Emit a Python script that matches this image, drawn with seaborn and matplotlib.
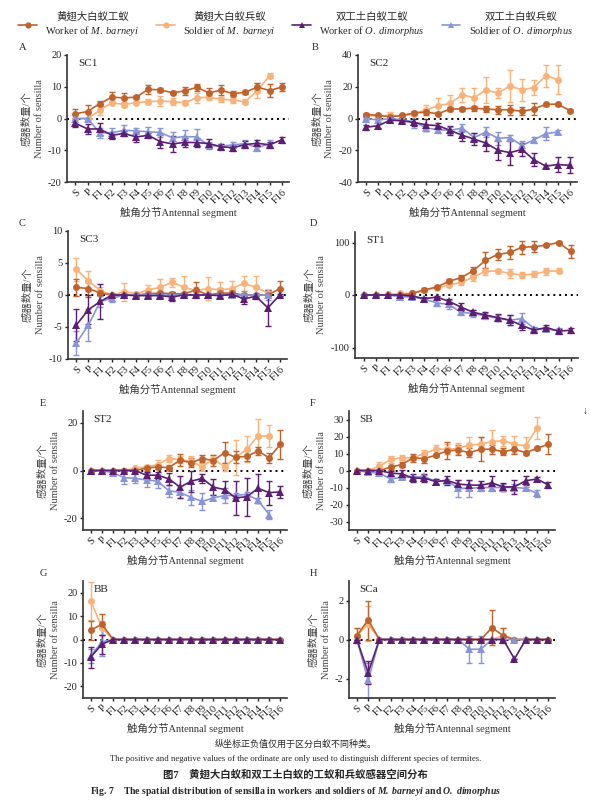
import numpy as np
import pandas as pd
import seaborn as sns
import matplotlib.pyplot as plt
from matplotlib.lines import Line2D

sns.set_style("ticks")
plt.rcParams["font.family"] = ["Liberation Serif", "Noto Sans CJK SC", "DejaVu Sans"]
plt.rcParams["axes.unicode_minus"] = False
plt.rcParams["mathtext.fontset"] = "custom"
plt.rcParams["mathtext.rm"] = "Liberation Serif"
plt.rcParams["mathtext.it"] = "Liberation Serif:italic"
plt.rcParams["mathtext.bf"] = "Liberation Serif:bold"
try:
    plt.rcParams["mathtext.bfit"] = "Liberation Serif:italic:bold"
except KeyError:
    pass

# antennal segments
segs = ["S", "P"] + ["F%d" % i for i in range(1, 17)]

# SC1
sc1_wm = [1.5, 2.2, 4.7, 6.7, 6.5, 6.7, 9.2, 9.0, 8.1, 8.7, 9.8, 8.1, 8.9, 7.8, 8.3, 9.9, 8.8, 9.9]
sc1_wm_err = [1.5, 2.0, 0.7, 1.5, 1.5, 0.5, 1.5, 0.7, 0.5, 1.3, 1.0, 1.5, 1.5, 0.8, 0.5, 1.3, 2.0, 1.2]
sc1_sm = [0, 0, 2.6, 5.0, 4.4, 5.0, 5.3, 5.5, 5.3, 5.0, 6.5, 6.7, 6.1, 5.8, 5.3, 8.8, 13.5]
sc1_sm_err = [0, 0, 1.5, 0.5, 0.7, 0.5, 0.7, 1.5, 1.0, 0.7, 1.5, 0.8, 0.8, 1.0, 0.8, 2.5, 0.8]
sc1_wo = [-1.5, -3.3, -3.3, -5.3, -4.7, -5.8, -5.3, -7.3, -8.0, -7.5, -7.6, -7.9, -8.9, -9.2, -8.2, -7.8, -8.3, -6.7]
sc1_wo_err = [1.2, 1.5, 2.0, 1.0, 0.8, 1.5, 0.8, 2.0, 2.5, 1.5, 1.5, 1.5, 1.0, 1.0, 1.0, 1.0, 1.0, 1.0]
sc1_so = [0, 0, -4.5, -4.5, -3.7, -3.9, -4.2, -4.4, -6.1, -5.7, -5.8, -8.5, -8.7, -8.3, -7.9, -9.2, -7.9]
sc1_so_err = [0, 0, 1.5, 1.5, 1.8, 0.8, 1.5, 1.5, 2.0, 2.0, 2.5, 1.0, 0.8, 1.0, 1.0, 1.0, 1.0]

# SC2
sc2_wm = [2.5, 2, 1, 2, 3.5, 4, 3, 6, 6, 6.5, 6, 5.5, 5.5, 4.5, 6, 9, 9, 5]
sc2_wm_err = [1, 1, 1, 1, 1, 2, 1, 1.5, 1.5, 1.5, 2, 2.5, 3, 2.5, 3.5, 1, 1, 1]
sc2_sm = [2, 1.5, 2, 1.5, 3, 5.5, 8, 9.5, 15, 13, 18, 16, 20.5, 18, 19.5, 27, 24.5]
sc2_sm_err = [1, 1, 2, 1, 1, 3, 5, 5, 4.5, 6, 8, 3, 10, 7, 5, 7, 9]
sc2_wo = [-5.5, -4.5, -1, -1.5, -2.5, -4, -4.5, -7.5, -10.5, -13, -15.5, -20, -21.5, -19.5, -26, -30, -29, -29.5]
sc2_wo_err = [1.5, 1.5, 1, 1.5, 2, 4, 1.5, 3, 3.5, 4, 5, 6, 7.5, 4, 4, 1, 5, 5]
sc2_so = [0, -1, 0, -1, -2, -6, -7, -7.5, -6, -12, -8.5, -12.5, -12, -17, -13.5, -9.5, -8.5]
sc2_so_err = [1, 1, 1, 1, 4, 2, 2, 2, 2.5, 3, 3, 4, 1.5, 3, 2, 4, 1]

# SC3
sc3_wm = [1.2, 1.0, 0.3, 0, 0, 0, 0.2, 0.3, 0.2, 0.2, 0.8, 0, 0.3, 0.3, 0, 0, 0, 1.0]
sc3_wm_err = [1.3, 1.3, 0.5, 0.2, 0.2, 0.2, 0.4, 0.3, 0.3, 0.3, 1.3, 0.3, 0.8, 0.5, 0.2, 0.2, 0.2, 1.2]
sc3_sm = [4.0, 2.2, 0.7, 0, 0.5, 0.2, 0.8, 1.2, 2.0, 1.2, 0.7, 1.0, 0.8, 1.0, 1.8, 1.2, 0.3]
sc3_sm_err = [1.8, 1.5, 0.6, 0.2, 1.4, 0.3, 0.8, 1.3, 0.7, 1.7, 0.6, 1.8, 1.3, 1.2, 1.1, 1.7, 0.4]
sc3_wo = [-4.7, -2.3, -1.0, 0, 0, -0.1, -0.1, -0.1, -0.3, 0, 0, 0, -0.1, 0.1, -0.6, -0.2, -2.0, 0]
sc3_wo_err = [2.5, 2.3, 2.7, 0.2, 0.2, 0.2, 0.2, 0.2, 0.7, 0.2, 0.2, 0.2, 0.3, 0.3, 0.8, 0.4, 2.8, 0.2]
sc3_so = [-7.5, -4.7, -1.0, -0.5, 0, 0, 0, 0, 0, 0, 0, 0, 0, 0, 0, 0, 0]
sc3_so_err = [1.8, 2.5, 0.8, 0.6, 0.1, 0.1, 0.1, 0.1, 0.1, 0.1, 0.1, 0.1, 0.1, 0.1, 0.6, 0.1, 0.8]

# ST1
st1_wm = [0, 0, 0, 0, 3, 10, 15, 26, 33, 46, 66, 77, 81, 91, 92, 95, 100, 83]
st1_wm_err = [0, 0, 0, 0, 1, 3, 2, 4, 6, 8, 15, 10, 12, 12, 10, 2, 3, 12]
st1_sm = [0, 0, 1, 3, 3, 9, 14, 19, 24, 34, 45, 46, 41, 38, 40, 45, 46]
st1_sm_err = [0, 0, 1, 2, 2, 2, 3, 3, 5, 8, 6, 4, 8, 6, 6, 7, 5]
st1_wo = [0, 0, 0, 0, -2, -7, -4, -12, -23, -33, -38, -43, -48, -58, -67, -62, -69, -67]
st1_wo_err = [0, 0, 0, 0, 1, 3, 2, 4, 8, 5, 6, 6, 10, 8, 5, 5, 5, 5]
st1_so = [0, 0, 0, -3, -4, -8, -15, -18, -33, -35, -40, -44, -48, -45, -64, -65, -67]
st1_so_err = [0, 0, 0, 2, 3, 3, 6, 8, 6, 6, 5, 5, 10, 10, 4, 4, 4]

# ST2
st2_wm = [0, 0, 0, 0, 0, 1, 1.5, 1.2, 4.3, 3.3, 5, 4.2, 7.5, 5.5, 6, 8.2, 5.3, 11]
st2_wm_err = [0, 0, 0, 0, 0, 1, 1, 1, 2.5, 2, 1.5, 2.5, 4.5, 2.5, 2, 1.5, 2, 6]
st2_sm = [0, 0, 0, 0, 1, 1.5, 2.5, 5, 4.5, 4, 1.5, 5, 1.5, 5.5, 9, 14.5, 14.5]
st2_sm_err = [0, 0, 0, 0.5, 0.5, 1, 2, 1.5, 1.5, 2, 1.5, 1.5, 1.5, 7.5, 5.5, 7, 4.5]
st2_wo = [0, 0, 0, 0, 0, -2, -2, -3.5, -7, -4.5, -3.3, -7, -8, -11.5, -11, -7.5, -9.3, -9]
st2_wo_err = [0, 0, 0, 0.5, 0.3, 1.5, 1.5, 2.5, 4.5, 4.5, 2, 3.5, 3.5, 7, 8, 6, 5, 2.5]
st2_so = [0, 0, -1, -3, -3.3, -4, -4.5, -8.5, -9.2, -11.3, -13, -11.5, -10.5, -10.5, -10, -12.5, -18.5]
st2_so_err = [0, 0, 1, 2.5, 2, 3, 3, 2.5, 2.5, 3, 3.5, 1, 3, 1, 1, 1, 2]

# SB
sb_wm = [0, 0, 0, 2, 3.5, 7.5, 7, 9, 11.5, 12, 10.5, 12.5, 12.5, 11, 12.5, 10.5, 13, 15.5]
sb_wm_err = [0, 0, 0, 1.5, 1.5, 2.5, 2.5, 1, 5, 3, 2.5, 7, 2.5, 2, 3, 1, 1, 6]
sb_sm = [0, 0, 2.5, 6.5, 7.5, 7.5, 10, 12.5, 12.5, 13, 15, 15.5, 17, 17.5, 15.5, 14.5, 25]
sb_sm_err = [0, 0, 2.5, 2, 1.5, 1.5, 2, 2.5, 3, 3, 5, 4, 7, 3, 5, 5.5, 6.5]
sb_wo = [0, 0, 0, -1.5, -2, -4.5, -4.5, -6.5, -5.8, -8, -8.5, -8.7, -7.3, -9.7, -9.6, -6, -5, -8.5]
sb_wo_err = [0, 0, 0.5, 1.5, 2.5, 2.5, 2.5, 1.5, 2.5, 2.5, 3, 2.5, 4, 2.5, 4, 2.5, 1, 1.5]
sb_so = [0, -1, -1.5, -5, -4, -4, -3.5, -6.5, -6, -10.5, -10.5, -10, -10, -10, -10, -10.5, -13.5]
sb_so_err = [0, 1, 1, 2, 1, 1, 1, 1.5, 1, 5, 5, 2, 2, 2, 2, 1, 2]

# BB
bb_wm = [4, 6.5] + [0] * 16
bb_wm_err = [4, 4.5] + [0] * 16
bb_sm = [16.5, 5] + [0] * 15
bb_sm_err = [8, 3] + [0] * 15
bb_wo = [-7.5, -2] + [0] * 16
bb_wo_err = [4.5, 4] + [0] * 16
bb_so = [-7, -1] + [0] * 15
bb_so_err = [3, 6] + [0] * 15

# SCa
sca_wm = [0.2, 1.0, 0, 0, 0, 0, 0, 0, 0, 0, 0, 0, 0.6, 0.2, 0, 0, 0, 0]
sca_wm_err = [0.4, 1.0, 0, 0, 0, 0, 0, 0, 0, 0, 0, 0, 0.9, 0.4, 0, 0, 0, 0]
sca_sm = [0.2, 0.8, 0, 0, 0, 0, 0, 0, 0, 0, 0, 0, 0, 0.2, 0, 0, 0]
sca_sm_err = [0.4, 0.9, 0, 0, 0, 0, 0, 0, 0, 0, 0, 0, 0, 0.4, 0, 0, 0]
sca_wo = [0, -1.7, 0, 0, 0, 0, 0, 0, 0, 0, 0, 0, 0, 0, -1.0, 0, 0, 0]
sca_wo_err = [0, 0.6, 0, 0, 0, 0, 0, 0, 0, 0, 0, 0, 0, 0, 0, 0, 0, 0]
sca_so = [0, -2.1, 0, 0, 0, 0, 0, 0, 0, 0, -0.5, -0.5, 0, 0, 0, 0, 0]
sca_so_err = [0, 0.9, 0, 0, 0, 0, 0, 0, 0, 0, 0.7, 0.7, 0, 0, 0, 0, 0]

group_names = ["黄翅大白蚁工蚁\nWorker of $\\it{M.\\ barneyi}$",
               "黄翅大白蚁兵蚁\nSoldier of $\\it{M.\\ barneyi}$",
               "双工土白蚁工蚁\nWorker of $\\it{O.\\ dimorphus}$",
               "双工土白蚁兵蚁\nSoldier of $\\it{O.\\ dimorphus}$"]
colors = ["#C0622C", "#F8B27A", "#5C1E72", "#8795D8"]
markers = ["o", "o", "^", "^"]

W, H = 591, 810
fig = plt.figure(figsize=(W / 100, H / 100), dpi=100)

panels = [
    # letter, title, data, errors, ylim, yticks, axes box px (left, top, right, bottom), letter pos px
    ("A", "SC1", [sc1_wm, sc1_sm, sc1_wo, sc1_so], [sc1_wm_err, sc1_sm_err, sc1_wo_err, sc1_so_err],
     (-20, 20), [-20, -10, 0, 10, 20], (67, 55, 289, 182), (19, 48)),
    ("B", "SC2", [sc2_wm, sc2_sm, sc2_wo, sc2_so], [sc2_wm_err, sc2_sm_err, sc2_wo_err, sc2_so_err],
     (-40, 40), [-40, -20, 0, 20, 40], (358, 55, 577, 182), (312, 48)),
    ("C", "SC3", [sc3_wm, sc3_sm, sc3_wo, sc3_so], [sc3_wm_err, sc3_sm_err, sc3_wo_err, sc3_so_err],
     (-10, 10), [-10, -5, 0, 5, 10], (68, 231, 287, 359), (19, 224)),
    ("D", "ST1", [st1_wm, st1_sm, st1_wo, st1_so], [st1_wm_err, st1_sm_err, st1_wo_err, st1_so_err],
     (-120, 120), [-100, 0, 100], (355, 232, 578, 358), (310, 224)),
    ("E", "ST2", [st2_wm, st2_sm, st2_wo, st2_so], [st2_wm_err, st2_sm_err, st2_wo_err, st2_so_err],
     (-25, 25), [-20, 0, 20], (83, 411, 287, 530), (40, 404)),
    ("F", "SB", [sb_wm, sb_sm, sb_wo, sb_so], [sb_wm_err, sb_sm_err, sb_wo_err, sb_so_err],
     (-35, 35), [-30, -20, -10, 0, 10, 20, 30], (349, 411, 555, 530), (310, 404)),
    ("G", "BB", [bb_wm, bb_sm, bb_wo, bb_so], [bb_wm_err, bb_sm_err, bb_wo_err, bb_so_err],
     (-25, 25), [-20, -10, 0, 10, 20], (83, 581, 287, 698), (40, 574)),
    ("H", "SCa", [sca_wm, sca_sm, sca_wo, sca_so], [sca_wm_err, sca_sm_err, sca_wo_err, sca_so_err],
     (-3, 3), [-2, 0, 2], (349, 581, 555, 698), (310, 574)),
]

draw_order = [1, 0, 3, 2]  # soldiers under workers

for letter, title, vals, errs, ylim, yticks, box, lpos in panels:
    l, t, r, b = box
    ax = fig.add_axes([l / W, 1 - b / H, (r - l) / W, (b - t) / H])
    ax.axhline(0, color="black", lw=1.4, ls=(0, (1, 2)), zorder=1)
    for i in draw_order:
        n = len(vals[i])
        df = pd.DataFrame({"pos": np.arange(n), "val": vals[i]})
        ax.errorbar(df["pos"], df["val"], yerr=errs[i], fmt="none", ecolor=colors[i],
                    elinewidth=1.0, capsize=2.2, capthick=1.0, zorder=2)
        sns.lineplot(data=df, x="pos", y="val", ax=ax, color=colors[i], marker=markers[i],
                     markersize=5 if markers[i] == "o" else 5.5, markeredgewidth=0,
                     lw=1.2, errorbar=None, zorder=3)
    ax.set_xlim(-0.7, 17.6)
    ax.set_ylim(*ylim)
    ax.set_yticks(yticks)
    ax.set_xticks(np.arange(len(segs)))
    ax.set_xticklabels(segs, rotation=45, ha="right", rotation_mode="anchor")
    ax.tick_params(labelsize=7.5, length=2.5, width=1, pad=1.5, colors="#222222")
    for s in ["top", "right"]:
        ax.spines[s].set_visible(False)
    for s in ["left", "bottom"]:
        ax.spines[s].set_linewidth(1.2)
        ax.spines[s].set_color("#333333")
    ax.set_xlabel("触角分节Antennal segment", fontsize=7.5, labelpad=1, color="#333333")
    ax.set_ylabel("感器数量/个\nNumber of sensilla", fontsize=7.5, labelpad=3,
                  color="#444444", linespacing=1.45)
    ax.text(0.05, 0.97, title, transform=ax.transAxes, fontsize=8, va="top", ha="left")
    fig.text(lpos[0] / W, 1 - lpos[1] / H, letter, fontsize=7.5, ha="left", va="center")

handles = [Line2D([0], [0], color=colors[i], marker=markers[i], markersize=4.5,
                  markeredgewidth=0, lw=1.2) for i in range(4)]
leg = fig.legend(handles, group_names, loc="upper center", bbox_to_anchor=(0.5, 0.997),
                 ncol=4, frameon=False, fontsize=7.5, handlelength=1.8,
                 handletextpad=0.8, columnspacing=1.6)
for txt in leg.get_texts():
    txt.set_multialignment("center")

fig.text(0.995, 1 - 411 / H, "↓", fontsize=7, ha="right", va="center")
fig.text(0.5, 1 - 744 / H, "纵坐标正负值仅用于区分白蚁不同种类。", fontsize=6.5,
         ha="center", va="center")
fig.text(0.5, 1 - 759 / H,
         "The positive and negative values of the ordinate are only used to distinguish "
         "different species of termites.", fontsize=6.3, ha="center", va="center")
fig.text(0.5, 1 - 775 / H, "图7    黄翅大白蚁和双工土白蚁的工蚁和兵蚁感器空间分布",
         fontsize=7.5, ha="center", va="center", fontweight="bold")
fig.text(0.5, 1 - 792 / H,
         "Fig. 7    The spatial distribution of sensilla in workers and soldiers of "
         "$\\mathbfit{M.\\ barneyi}$ and $\\mathbfit{O.\\ dimorphus}$",
         fontsize=7, ha="center", va="center", fontweight="bold")

fig.savefig("out.png", dpi=100)
